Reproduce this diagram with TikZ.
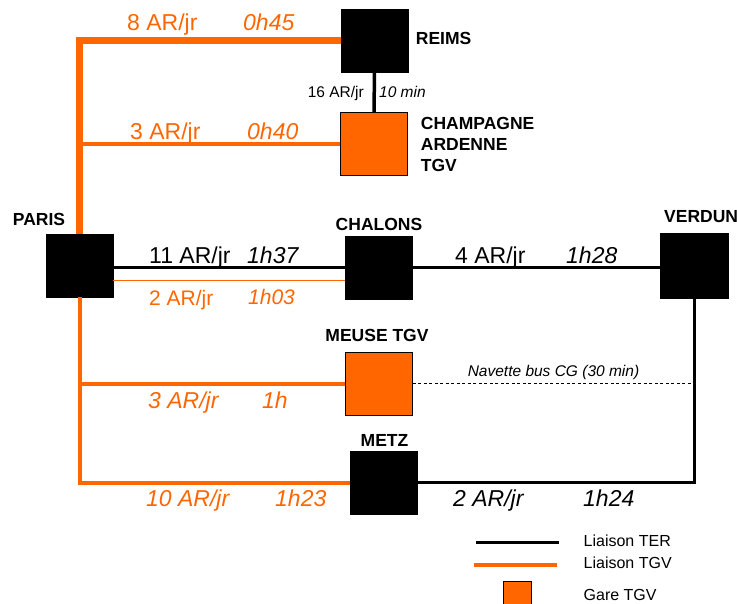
\documentclass[tikz,border=0pt]{standalone}
\usepackage{fontspec}
\setmainfont{Liberation Sans}
\usepackage{tikz}
\usetikzlibrary{positioning,calc}
\usepackage{xcolor}
\definecolor{tgvorange}{HTML}{FF6600}

\begin{document}
\begin{tikzpicture}[x=1pt,y=-1pt,
  station/.style={draw=black,fill=black,minimum width=67pt,minimum height=63pt,inner sep=0pt},
  gare/.style={station,fill=tgvorange,line width=0.9pt},
  ter/.style={draw=black,line width=3pt},
  tgv/.style={draw=tgvorange,line width=4pt},
  lbl/.style={inner sep=0pt,anchor=base west},
  big/.style={lbl,font=\fontsize{23}{27}\selectfont},
  small/.style={lbl,font=\fontsize{15.5}{19}\selectfont},
  cityname/.style={lbl,align=left,font=\bfseries\fontsize{17.5}{21}\selectfont}]
\useasboundingbox (0,0) rectangle (737,604);
\clip (0,0) rectangle (737,604);

% gares
\node[station] (reims) at (374.5,40.5) {};
\node[gare] (champ) at (374,144) {};
\node[station] (paris) at (79.5,265.5) {};
\node[station] (chalons) at (378.5,267.5) {};
\node[station,minimum width=68pt,minimum height=65pt] (verdun) at (694,265.5) {};
\node[gare] (meuse) at (379,383.5) {};
\node[station] (metz) at (383.5,482.5) {};

% noms
\node[cityname] (reimsname) at (415.7,45) {REIMS};
\node[cityname,anchor=north west] (champname) at (420.7,117) {CHAMPAGNE\\ARDENNE\\TGV};
\node[cityname,anchor=base] (parisname) at (39,226) {PARIS};
\node[cityname,anchor=base] (chalonsname) at (379,231) {CHALONS};
\node[cityname] (verdunname) at (664,222.5) {VERDUN};
\node[cityname,anchor=base] (meusename) at (377,341.5) {MEUSE TGV};
\node[cityname,anchor=base] (metzname) at (384.5,446.5) {METZ};

% liaisons
\draw[tgv,line width=6.5pt] (paris.north) |- (reims.west);
\draw[tgv] (champ.west) -- (champ.west -| paris.north);
\draw[ter,line width=3.5pt] (reims.south) -- (champ.north);
\draw[ter] ([yshift=-2.5pt]paris.east) -- ([yshift=-2.5pt]paris.east -| chalons.west);
\draw[tgv,line width=1.5pt] ([yshift=-15pt]paris.east) -- ([yshift=-15pt]paris.east -| chalons.west);
\draw[ter] (chalons.east) -- (chalons.east -| verdun.west);
\draw[tgv] (paris.south) |- (metz.west);
\draw[tgv] (meuse.west) -- (meuse.west -| paris.south);
\draw[ter] (verdun.south) |- (metz.east);
\draw[dashed,line width=0.9pt,dash pattern=on 3pt off 2.5pt] (meuse.east) -- (meuse.east -| verdun.south);

% frequences et temps
\node[big,text=tgvorange] (f1) at (127,31) {8 AR/jr};
\node[big,text=tgvorange,font=\itshape\fontsize{23}{27}\selectfont] (t1) at (243,31) {0h45};
\node[big,text=tgvorange] (f2) at (130,140) {3 AR/jr};
\node[big,text=tgvorange,font=\itshape\fontsize{23}{27}\selectfont] (t2) at (247,140) {0h40};
\node[small,anchor=base east] (f3) at (364,98) {16 AR/jr};
\node[small,font=\itshape\fontsize{15.5}{19}\selectfont] (t3) at (379,98) {10 min};
\node[big] (f4) at (149,264) {11 AR/jr};
\node[big,font=\itshape\fontsize{23}{27}\selectfont] (t4) at (247,264) {1h37};
\node[big,text=tgvorange,font=\fontsize{21}{25}\selectfont] (f5) at (149,306) {2 AR/jr};
\node[big,text=tgvorange,font=\itshape\fontsize{21}{25}\selectfont] (t5) at (248,305) {1h03};
\node[big] (f6) at (455,264) {4 AR/jr};
\node[big,font=\itshape\fontsize{23}{27}\selectfont] (t6) at (566,264) {1h28};
\node[small,font=\itshape\fontsize{15.5}{19}\selectfont] (bus) at (467.6,376.5) {Navette bus CG (30 min)};
\node[big,text=tgvorange,font=\itshape\fontsize{23}{27}\selectfont] (f7) at (148,408) {3 AR/jr};
\node[big,text=tgvorange,font=\itshape\fontsize{23}{27}\selectfont] (t7) at (262,408) {1h};
\node[big,text=tgvorange,font=\itshape\fontsize{23}{27}\selectfont] (f8) at (146,506) {10 AR/jr};
\node[big,text=tgvorange,font=\itshape\fontsize{23}{27}\selectfont] (t8) at (275,506) {1h23};
\node[big,font=\itshape\fontsize{23}{27}\selectfont] (f9) at (453,506) {2 AR/jr};
\node[big,font=\itshape\fontsize{23}{27}\selectfont] (t9) at (583,506) {1h24};

% legende
\coordinate (terA) at (476,542);
\coordinate (terB) at (559,542);
\coordinate (tgvA) at (474,565);
\coordinate (tgvB) at (557,565);
\draw[ter] (terA) -- (terB);
\draw[tgv,line width=3.5pt] (tgvA) -- (tgvB);
\node[gare,minimum width=28pt,minimum height=28pt] (legare) at (517,595) {};
\node[small,font=\fontsize{16}{19}\selectfont] (legter) at (583.5,546) {Liaison TER};
\node[small,font=\fontsize{16}{19}\selectfont] (legtgv) at (583.5,568) {Liaison TGV};
\node[small,font=\fontsize{16}{19}\selectfont] (leggare) at (583.5,600.5) {Gare TGV};
\end{tikzpicture}
\end{document}
